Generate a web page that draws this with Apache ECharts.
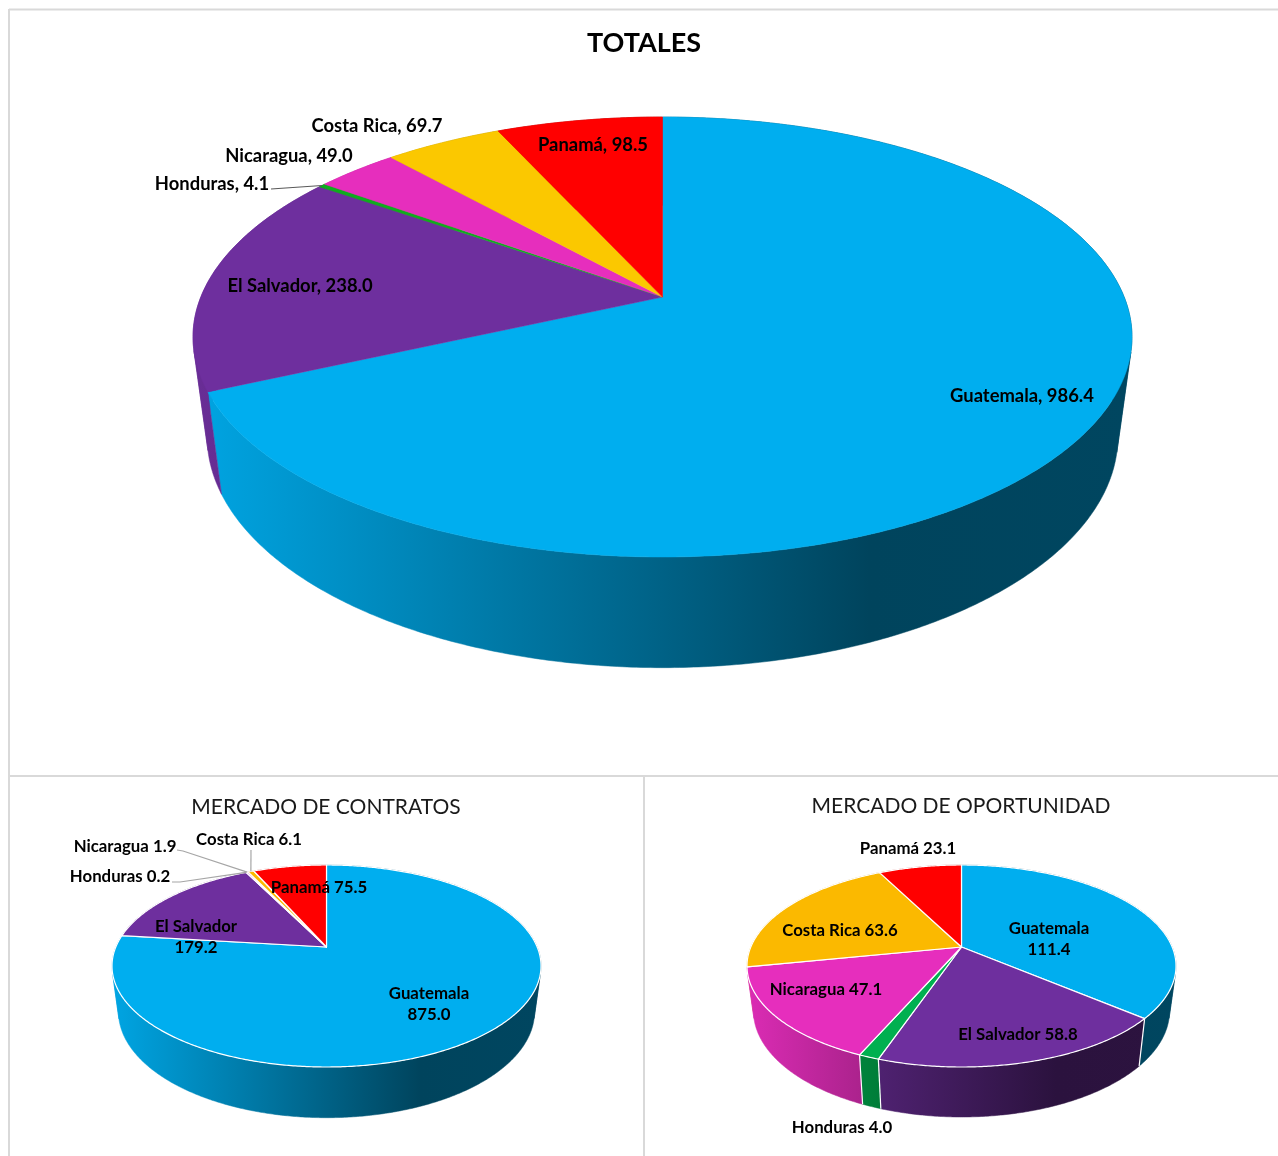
<!DOCTYPE html>
<html lang="es">
<head>
    <title>Totales</title>
    <meta charset="utf-8">
    <style>
        html, body { margin: 0; padding: 0; background: #fff; overflow: hidden; }
        #chart { width: 1278px; height: 1156px; }
    </style>
</head>
<body>
    <div id="chart"></div>
    <script src="https://cdn.jsdelivr.net/npm/echarts@6/dist/echarts.min.js"></script>
    <script type="text/javascript">
        // data
        var countries = ["Guatemala", "El Salvador", "Honduras", "Nicaragua", "Costa Rica", "Panamá"];
        var totalesValues = [986.4, 238.0, 4.1, 49.0, 69.7, 98.5];
        var contratosValues = [875.0, 179.2, 0.2, 1.9, 6.1, 75.5];
        var oportunidadValues = [111.4, 58.8, 4.0, 47.1, 63.6, 23.1];

        var totalesColors = ["#00AEEF", "#6E2F9E", "#0EAC1E", "#E62EBD", "#FBC800", "#FF0000"];
        var mercadoColors = ["#00AEEF", "#6E2F9E", "#00B050", "#E62EBD", "#FBB900", "#FF0000"];

        var FONT = "Lato, 'Noto Sans', sans-serif";
        var TEXT_FONT = "bold 18.4px " + FONT;
        var TEXT_FONT_SMALL = "bold 16.8px " + FONT;

        // one pie: apex on screen, half sizes, and how the lower rim is scaled and shifted
        var pies = [
            {
                name: "TOTALES", values: totalesValues, colors: totalesColors,
                ax: 662.5, ay: 297, up: 180, down: 260, rx: 469.5, sx: 0.97, sy: 1.051, dy: 97.4, border: 0,
                sep: ", ", font: TEXT_FONT,
                labels: [[1022, 396], [300, 286], [212, 184], [289, 156], [377, 126], [593, 145]],
                leaders: { 2: { color: "#595959", pts: [[271, 189]] } }
            },
            {
                name: "MERCADO DE CONTRATOS", values: contratosValues, colors: mercadoColors,
                ax: 326.5, ay: 947, up: 82, down: 120, rx: 214.5, sx: 0.97, sy: 1.05, dy: 44.7, border: 1.2,
                sep: " ", font: TEXT_FONT_SMALL, twoLines: { 0: 1, 1: 1 },
                labels: [[429, 1004], [196, 937], [120, 877], [125, 847], [249, 840], [319, 888]],
                leaders: {
                    2: { color: "#A6A6A6", pts: [[172, 882], [180, 882]] },
                    3: { color: "#A6A6A6", pts: [[177, 850], [183, 851]] },
                    4: { color: "#A6A6A6", pts: [[251, 850]] }
                }
            },
            {
                name: "MERCADO DE OPORTUNIDAD", values: oportunidadValues, colors: mercadoColors,
                ax: 961.5, ay: 947, up: 82, down: 120, rx: 214.5, sx: 0.97, sy: 1.05, dy: 44, border: 1.2,
                sep: " ", font: TEXT_FONT_SMALL, twoLines: { 0: 1 },
                labels: [[1049, 939], [1018, 1035], [842, 1128], [826, 990], [840, 931], [908, 849]],
                leaders: {}
            }
        ];

        function setup(pie) {
            pie.k = (pie.down - pie.up) / (pie.down + pie.up);
            pie.g = pie.down * (1 - pie.k);
            pie.f = pie.rx * Math.sqrt(1 - pie.k * pie.k);
            pie.total = pie.values.reduce(function (a, b) { return a + b; }, 0);
        }

        // fraction of the circle (clockwise from 12 o'clock) to the screen
        function rim(pie, frac, lower) {
            var a = frac * Math.PI * 2;
            var u = Math.sin(a), v = -Math.cos(a);
            var w = 1 - pie.k * v;
            var x = pie.f * u / w, y = pie.g * v / w;
            if (lower) return [pie.ax + x * pie.sx, pie.ay + y * pie.sy + pie.dy];
            return [pie.ax + x, pie.ay + y];
        }

        function shade(hex, f) {
            var n = parseInt(hex.slice(1), 16);
            var r = Math.round((n >> 16 & 255) * f), g = Math.round((n >> 8 & 255) * f), b = Math.round((n & 255) * f);
            return "rgb(" + r + "," + g + "," + b + ")";
        }

        function wallFill(pie, color) {
            return new echarts.graphic.LinearGradient(pie.ax - pie.rx, 0, pie.ax + pie.rx, 0, [
                { offset: 0, color: shade(color, 0.95) },
                { offset: 0.72, color: shade(color, 0.39) },
                { offset: 1, color: shade(color, 0.4) }
            ], true);
        }

        // does the wall piece between two rim fractions face the viewer
        function facing(pie, f0, f1) {
            var a = rim(pie, f0, false), b = rim(pie, f1, false), c = rim(pie, f0, true);
            return (b[0] - a[0]) * (c[1] - a[1]) - (b[1] - a[1]) * (c[0] - a[0]) < 0;
        }

        // wall of one slice, one polygon per run of pieces that face the same way
        function wallRuns(pie, from, to, steps) {
            var runs = [], run = null;
            for (var m = 0; m < steps; m++) {
                var f0 = from + (to - from) * m / steps, f1 = from + (to - from) * (m + 1) / steps;
                var front = facing(pie, f0, f1);
                if (!run || run.front !== front) {
                    run = { front: front, fracs: [f0] };
                    runs.push(run);
                }
                run.fracs.push(f1);
            }
            return runs;
        }

        function makeRenderItem(pie) {
            return function (params, api) {
                var i = params.dataIndex;
                var from = api.value(1) / pie.total;
                var to = (api.value(1) + api.value(0)) / pie.total;
                var color = pie.colors[i];
                var children = [];
                var steps = Math.max(2, Math.ceil((to - from) * 720));
                var fill = wallFill(pie, color);
                var top = [[pie.ax, pie.ay]];
                for (var n = 0; n <= steps; n++) {
                    top.push(rim(pie, from + (to - from) * n / steps, false));
                }
                wallRuns(pie, from, to, steps).forEach(function (run) {
                    var upper = run.fracs.map(function (f) { return rim(pie, f, false); });
                    var lower = run.fracs.map(function (f) { return rim(pie, f, true); }).reverse();
                    children.push({
                        type: "polygon", z2: run.front ? 2 : 1,
                        shape: { points: upper.concat(lower) },
                        style: { fill: fill, stroke: fill, lineWidth: 0.5 }
                    });
                });
                if (pie.border && facing(pie, from, from + 0.001)) {
                    var p0 = rim(pie, from, false), p1 = rim(pie, from, true);
                    children.push({
                        type: "line", z2: 3,
                        shape: { x1: p0[0], y1: p0[1], x2: p1[0], y2: p1[1] },
                        style: { stroke: "#fff", lineWidth: pie.border }
                    });
                }
                children.push({
                    type: "polygon", z2: 4,
                    shape: { points: top },
                    style: pie.border ? { fill: color, stroke: "#fff", lineWidth: pie.border, lineJoin: "round" } : { fill: color, stroke: color, lineWidth: 0.5 }
                });
                var leader = pie.leaders[i];
                if (leader) {
                    children.push({
                        type: "polyline", z2: 5,
                        shape: { points: leader.pts.concat([rim(pie, (from + to) / 2, false)]) },
                        style: { fill: null, stroke: leader.color, lineWidth: 1.2 }
                    });
                }
                var value = api.value(0).toFixed(1);
                var text = countries[i] + ((pie.twoLines && pie.twoLines[i]) ? "\n" : pie.sep) + value;
                children.push({
                    type: "text", z2: 6,
                    style: {
                        text: text, x: pie.labels[i][0], y: pie.labels[i][1],
                        font: pie.font, fill: "#000", align: "center", verticalAlign: "middle", lineHeight: 21
                    }
                });
                return { type: "group", children: children };
            };
        }

        var series = pies.map(function (pie) {
            setup(pie);
            var sum = 0;
            var rows = pie.values.map(function (v) {
                var row = [v, sum];
                sum += v;
                return row;
            });
            return {
                type: "custom", name: pie.name, coordinateSystem: "none", silent: true,
                animation: false, clip: false,
                renderItem: makeRenderItem(pie), data: rows
            };
        });

        var frame = [
            [9, 9.5, 1278, 9.5], [9, 9, 9, 1156], [9, 776, 1278, 776], [644, 776, 644, 1156]
        ].map(function (l) {
            return {
                type: "line", silent: true,
                shape: { x1: l[0], y1: l[1], x2: l[2], y2: l[3] },
                style: { stroke: "#D9D9D9", lineWidth: 2 }
            };
        });

        var mychart = echarts.init(document.getElementById("chart"));
        mychart.setOption({
            backgroundColor: "#fff",
            animation: false,
            title: [
                { text: "TOTALES", left: 639, top: 25, textAlign: "center", textStyle: { fontFamily: FONT, fontWeight: "bold", fontSize: 27, color: "#000" } },
                { text: "MERCADO DE CONTRATOS", left: 321, top: 792, textAlign: "center", textStyle: { fontFamily: FONT, fontWeight: "normal", fontSize: 21, color: "#1a1a1a" } },
                { text: "MERCADO DE OPORTUNIDAD", left: 956, top: 791, textAlign: "center", textStyle: { fontFamily: FONT, fontWeight: "normal", fontSize: 21, color: "#1a1a1a" } }
            ],
            graphic: frame,
            series: series
        });
    </script>
</body>
</html>
